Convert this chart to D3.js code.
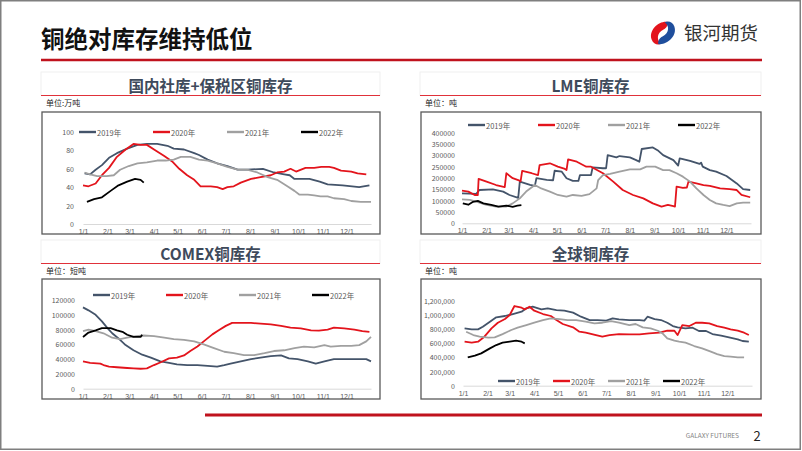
<!DOCTYPE html>
<html>
<head>
<meta charset="utf-8">
<script src="https://cdn.jsdelivr.net/npm/d3@7"></script>
<style>
  body { margin: 0; background: #fff; }
  svg { display: block; font-family: "Noto Sans CJK SC", "Noto Sans", sans-serif; }
</style>
</head>
<body>
<div id="chart"></div>
<script>
// legend names and colours order: 2019, 2020, 2021, 2022
const years = ["2019年", "2020年", "2021年", "2022年"];
const monthStarts = [0, 31, 59, 90, 120, 151, 181, 212, 243, 273, 304, 334];
const monthLabels = ["1/1", "2/1", "3/1", "4/1", "5/1", "6/1", "7/1", "8/1", "9/1", "10/1", "11/1", "12/1"];

// [day of year, value]
// 国内社库+保税区 (万吨)
const domestic2019 = [[2,55],[9,54],[16,59],[24,64],[33,72],[43,77],[56,82],[69,86],[81,87],[94,87],[107,85],[115,82],[128,81],[141,77],[147,75],[158,70],[170,66],[183,63],[196,59],[208,59],[228,60],[242,56],[255,54],[262,53],[268,49],[287,49],[300,46],[310,43],[329,42],[350,40],[363,42]];
const domestic2020 = [[0,42],[7,41],[16,44],[24,53],[33,61],[43,73],[54,81],[64,87],[73,86],[81,86],[92,80],[103,74],[113,68],[122,60],[132,53],[141,48],[149,41],[162,41],[170,40],[177,38],[183,40],[191,41],[200,45],[213,49],[225,51],[238,53],[246,56],[255,57],[263,60],[270,57],[282,61],[293,61],[302,62],[312,62],[318,61],[327,58],[340,57],[348,55],[359,54]];
const domestic2021 = [[2,56],[9,54],[18,52],[30,52],[39,53],[47,59],[58,63],[69,66],[81,67],[94,69],[105,69],[115,70],[124,73],[136,73],[147,70],[158,69],[170,66],[183,62],[196,59],[208,59],[221,56],[234,51],[246,48],[259,41],[268,36],[274,32],[285,32],[293,31],[301,30],[310,30],[318,28],[331,27],[340,25],[352,24],[365,24]];
const domestic2022 = [[5,24],[14,27],[24,29],[35,36],[45,42],[56,46],[66,49],[73,48],[77,45]];

// LME (吨)
const lme2019 = [[0,132000],[18,130000],[22,147000],[39,150000],[52,140000],[60,125000],[71,112000],[73,184000],[86,170000],[92,165000],[94,199000],[107,192000],[115,190000],[117,232000],[126,228000],[132,199000],[140,187000],[147,187000],[149,213000],[163,213000],[165,247000],[178,243000],[182,243000],[184,301000],[195,291000],[199,297000],[212,291000],[220,279000],[224,272000],[227,328000],[241,335000],[248,320000],[254,301000],[267,279000],[273,255000],[275,287000],[288,276000],[300,262000],[302,268000],[304,250000],[313,235000],[321,228000],[334,209000],[347,176000],[355,151000],[364,147000]];
const lme2020 = [[0,144000],[8,140000],[16,125000],[20,125000],[21,196000],[31,184000],[43,169000],[54,160000],[56,221000],[64,199000],[71,191000],[74,185000],[76,231000],[88,221000],[96,213000],[98,257000],[111,265000],[121,250000],[130,240000],[132,235000],[134,282000],[145,272000],[157,250000],[163,250000],[178,221000],[191,184000],[203,147000],[216,125000],[229,110000],[241,88000],[252,74000],[260,81000],[267,76000],[269,74000],[271,162000],[279,156000],[284,158000],[286,184000],[296,176000],[305,169000],[313,165000],[326,154000],[338,151000],[347,147000],[353,125000],[364,115000]];
const lme2021 = [[0,106000],[10,103000],[18,96000],[31,81000],[43,74000],[56,74000],[64,88000],[73,110000],[81,140000],[92,169000],[100,154000],[111,140000],[121,125000],[132,118000],[140,125000],[151,121000],[161,129000],[170,154000],[172,191000],[178,213000],[187,218000],[199,228000],[212,238000],[225,238000],[233,250000],[244,250000],[254,235000],[262,235000],[271,221000],[279,206000],[288,184000],[296,154000],[305,125000],[313,103000],[321,88000],[330,81000],[338,76000],[347,88000],[355,91000],[364,91000]];
const lme2022 = [[1,88000],[8,82000],[14,95000],[20,99000],[27,88000],[37,81000],[46,74000],[56,78000],[64,73000],[70,78000],[75,80000]];

// COMEX (短吨)
const comex2019 = [[0,110000],[7,106000],[16,100000],[24,91000],[31,82000],[37,75000],[45,68000],[54,59000],[64,52000],[75,46000],[86,42000],[98,37000],[109,35000],[119,33000],[132,32000],[145,32000],[158,31000],[170,30000],[179,32000],[187,34000],[200,37000],[213,40000],[225,42000],[238,44000],[251,45000],[261,41000],[272,40000],[285,37000],[295,34000],[306,37000],[318,40000],[331,40000],[348,40000],[359,40000],[365,37000]];
const comex2020 = [[0,37000],[9,35000],[22,34000],[26,32000],[33,30000],[43,29000],[56,28000],[64,27500],[73,27000],[81,27500],[90,32000],[100,36500],[109,41000],[119,42000],[128,45000],[136,51000],[145,57000],[153,64000],[164,73500],[172,79000],[181,85000],[189,89000],[200,89000],[213,89000],[225,88000],[238,87000],[251,85000],[263,82500],[276,81600],[289,79000],[299,78500],[310,80000],[318,82500],[331,81600],[344,80000],[354,78000],[363,77000]];
const comex2021 = [[0,78000],[7,80000],[16,78000],[26,75000],[37,69000],[47,67000],[56,69000],[67,71000],[77,72000],[90,71000],[103,69000],[115,67000],[128,66000],[141,64000],[153,60000],[166,55000],[179,50000],[191,48000],[204,45500],[217,45500],[230,48000],[242,51000],[255,52000],[268,55000],[280,57000],[293,56000],[306,59000],[314,57000],[327,58000],[340,58000],[350,59000],[359,64000],[365,70000]];
const comex2022 = [[0,70000],[7,76000],[16,79000],[24,82000],[35,82000],[43,79000],[50,77000],[56,73000],[64,70000],[73,70000],[75,73000]];

// 全球 (吨)
const global2019 = [[2,809000],[11,795000],[19,795000],[25,833000],[34,904000],[42,965000],[53,984000],[63,1012000],[74,1045000],[80,1092000],[88,1115000],[99,1078000],[107,1092000],[118,1068000],[128,1059000],[139,1031000],[149,974000],[160,927000],[170,927000],[181,918000],[189,950000],[197,936000],[210,927000],[223,927000],[229,918000],[233,974000],[242,941000],[250,927000],[258,889000],[265,842000],[271,824000],[281,809000],[290,819000],[298,772000],[307,772000],[315,729000],[326,706000],[336,682000],[347,654000],[353,631000],[361,621000]];
const global2020 = [[2,621000],[11,607000],[19,621000],[27,692000],[36,809000],[44,889000],[53,941000],[59,998000],[65,1125000],[74,1101000],[78,1078000],[84,1115000],[90,1059000],[101,1012000],[111,984000],[118,927000],[126,871000],[139,824000],[147,762000],[155,748000],[168,715000],[176,692000],[185,715000],[197,729000],[210,725000],[223,725000],[235,739000],[248,748000],[258,776000],[267,776000],[271,715000],[277,856000],[286,842000],[294,889000],[302,889000],[311,880000],[321,842000],[330,819000],[338,795000],[347,776000],[355,748000],[361,715000]];
const global2021 = [[4,762000],[13,715000],[21,692000],[32,678000],[40,682000],[50,729000],[61,786000],[69,819000],[80,856000],[90,889000],[101,927000],[111,950000],[122,941000],[132,927000],[143,927000],[155,904000],[166,880000],[176,889000],[187,913000],[197,889000],[210,856000],[218,871000],[227,824000],[237,809000],[246,776000],[252,739000],[258,668000],[267,635000],[273,621000],[281,607000],[292,560000],[302,527000],[313,480000],[321,447000],[330,419000],[338,409000],[347,400000],[355,400000]];
const global2022 = [[6,400000],[15,424000],[23,456000],[34,527000],[42,574000],[50,607000],[59,621000],[67,635000],[74,621000],[78,598000]];

const colors = ["#44546A", "#E3141C", "#A0A0A0", "#000000"];
const axisGray = "#595959";

const width = 802;
const height = 451;

const svg = d3.select("#chart").append("svg")
    .attr("width", width)
    .attr("height", height);

// page frame
svg.append("rect")
    .attr("x", 0.75).attr("y", 0.75)
    .attr("width", width - 2.5).attr("height", height - 2.5)
    .attr("fill", "#fff")
    .attr("stroke", "#7f7f7f")
    .attr("stroke-width", 1.5);

// header
svg.append("text")
    .attr("x", 41).attr("y", 48)
    .attr("font-size", 23.5)
    .attr("font-weight", "bold")
    .attr("fill", "#111")
    .text("铜绝对库存维持低位");
svg.append("line")
    .attr("x1", 41).attr("x2", 762)
    .attr("y1", 60).attr("y2", 60)
    .attr("stroke", "#C0121D")
    .attr("stroke-width", 2.5);

// logo
let logo = svg.append("g").attr("transform", "translate(663,33) rotate(-25)");
logo.append("path")
    .attr("d", "M 9,-8 C 2,-13 -12,-9 -13,1 C -13.5,6 -10,9 -6,9 C -9,4 -6,-3 2,-3 C 5,-3 8,-5 9,-8 Z")
    .attr("fill", "#E3141C");
logo.append("path")
    .attr("d", "M -9,8 C -2,13 12,9 13,-1 C 13.5,-6 10,-9 6,-9 C 9,-4 6,3 -2,3 C -5,3 -8,5 -9,8 Z")
    .attr("fill", "#1F4E9C");
svg.append("text")
    .attr("x", 684).attr("y", 40)
    .attr("font-size", 18.5)
    .attr("fill", "#333")
    .text("银河期货");

// footer
svg.append("line")
    .attr("x1", 205).attr("x2", 762)
    .attr("y1", 415).attr("y2", 415)
    .attr("stroke", "#C0121D")
    .attr("stroke-width", 3);
svg.append("text")
    .attr("x", 739).attr("y", 438)
    .attr("text-anchor", "end")
    .attr("font-size", 6.5)
    .attr("fill", "#7f7f7f")
    .text("GALAXY FUTURES");
svg.append("text")
    .attr("x", 757).attr("y", 441)
    .attr("text-anchor", "middle")
    .attr("font-size", 13)
    .attr("fill", "#222")
    .text("2");

const panels = [
    {title: "国内社库+保税区铜库存", unit: "单位:万吨", left: 41, right: 380, top: 72,
     boxTop: 112, boxBottom: 234, xRange: [83, 371], yRange: [224, 132], yMax: 100, yStep: 20,
     fmt: d3.format("d"), labelRight: 74, legendX: 79, legendY: 132, legendGap: 74,
     series: [domestic2019, domestic2020, domestic2021, domestic2022]},
    {title: "LME铜库存", unit: "单位：吨", left: 420, right: 761, top: 72,
     boxTop: 112, boxBottom: 234, xRange: [462, 751], yRange: [223.3, 132.7], yMax: 400000, yStep: 50000,
     fmt: d3.format("d"), labelRight: 455, legendX: 468, legendY: 125, legendGap: 70,
     series: [lme2019, lme2020, lme2021, lme2022]},
    {title: "COMEX铜库存", unit: "单位：短吨", left: 41, right: 380, top: 240,
     boxTop: 279, boxBottom: 399, xRange: [83, 371], yRange: [388.7, 300], yMax: 120000, yStep: 20000,
     fmt: d3.format("d"), labelRight: 75, legendX: 93, legendY: 295, legendGap: 73,
     series: [comex2019, comex2020, comex2021, comex2022]},
    {title: "全球铜库存", unit: "单位：吨", left: 420, right: 761, top: 240,
     boxTop: 279, boxBottom: 399, xRange: [463, 752], yRange: [385.7, 300.7], yMax: 1200000, yStep: 200000,
     fmt: d3.format(","), labelRight: 455, legendX: 498, legendY: 381, legendGap: 55,
     series: [global2019, global2020, global2021, global2022]}
];

let drawPanel = function (p) {
    const g = svg.append("g");
    const titleY = p.top + 13;
    const redY = p.top + 23.5;

    // header strip
    g.append("rect")
        .attr("x", p.left).attr("y", p.top)
        .attr("width", p.right - p.left).attr("height", redY - p.top)
        .attr("fill", "none")
        .attr("stroke", "#ececec")
        .attr("stroke-width", 0.8);
    g.append("line")
        .attr("x1", p.left).attr("x2", p.right)
        .attr("y1", redY).attr("y2", redY)
        .attr("stroke", "#E0313A")
        .attr("stroke-width", 1.2);
    g.append("text")
        .attr("x", (p.left + p.right) / 2).attr("y", titleY)
        .attr("text-anchor", "middle")
        .attr("dominant-baseline", "central")
        .attr("font-size", 15.5)
        .attr("font-weight", "bold")
        .attr("fill", "#3E4A5B")
        .text(p.title);
    g.append("text")
        .attr("x", p.left + 5).attr("y", redY + 10.5)
        .attr("font-size", 8)
        .attr("fill", "#222")
        .text(p.unit);

    // plot frame
    g.append("rect")
        .attr("x", p.left + 1).attr("y", p.boxTop)
        .attr("width", p.right - p.left - 1).attr("height", p.boxBottom - p.boxTop)
        .attr("fill", "none")
        .attr("stroke", "#595959")
        .attr("stroke-width", 1.3);

    const x = d3.scaleLinear().domain([0, 365]).range(p.xRange);
    const y = d3.scaleLinear().domain([0, p.yMax]).range(p.yRange);

    // y axis labels
    const yTicks = d3.range(0, p.yMax + 1, p.yStep);
    g.append("g").selectAll("text")
        .data(yTicks)
        .join("text")
        .attr("x", p.labelRight)
        .attr("y", d => y(d))
        .attr("text-anchor", "end")
        .attr("dominant-baseline", "central")
        .attr("font-size", 7)
        .attr("fill", axisGray)
        .text(d => p.fmt(d));

    // x axis
    const xAxis = d3.axisBottom(x)
        .tickValues(monthStarts)
        .tickFormat((d, i) => monthLabels[i])
        .tickSize(0)
        .tickPadding(5);
    const ax = g.append("g")
        .attr("transform", `translate(0,${y(0)})`)
        .call(xAxis);
    ax.select(".domain").attr("stroke", "#D9D9D9").attr("stroke-width", 1);
    ax.selectAll("text")
        .attr("font-size", 7)
        .attr("fill", axisGray)
        .attr("font-family", "Liberation Sans, Arial, sans-serif");

    // series
    const line = d3.line()
        .x(d => x(d[0]))
        .y(d => y(d[1]));
    p.series.forEach((s, i) => {
        g.append("path")
            .datum(s)
            .attr("fill", "none")
            .attr("stroke", colors[i])
            .attr("stroke-width", 1.8)
            .attr("stroke-linejoin", "round")
            .attr("d", line);
    });

    // legend
    const lg = g.append("g").selectAll("g")
        .data(years)
        .join("g")
        .attr("transform", (d, i) => `translate(${p.legendX + i * p.legendGap},${p.legendY})`);
    lg.append("line")
        .attr("x1", 0).attr("x2", 17)
        .attr("stroke", (d, i) => colors[i])
        .attr("stroke-width", 2.4);
    lg.append("text")
        .attr("x", 18)
        .attr("dominant-baseline", "central")
        .attr("font-size", 7.5)
        .attr("fill", axisGray)
        .text(d => d);

    g.selectAll("text").filter(function () { return !this.getAttribute("font-family"); })
        .attr("font-family", null);
};

panels.forEach(drawPanel);
</script>
</body>
</html>
